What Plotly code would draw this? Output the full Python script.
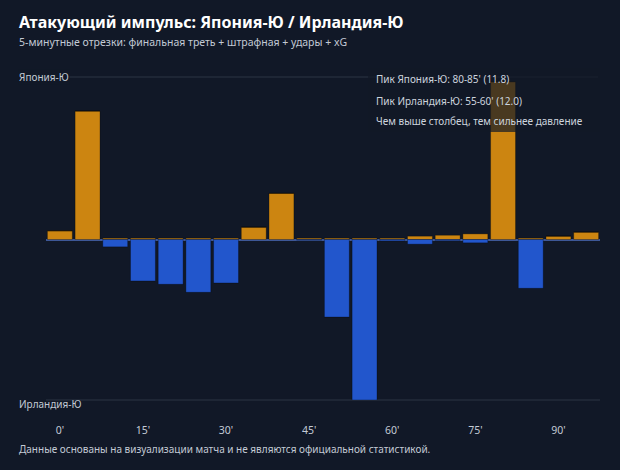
import plotly.graph_objects as go

minutes = [0, 5, 10, 15, 20, 25, 30, 35, 40, 45, 50, 55, 60, 65, 70, 75, 80, 85, 90, 95]
japan = [0.65, 9.6, 0.1, 0.1, 0.1, 0.1, 0.1, 0.92, 3.45, 0.1, 0.1, 0.1, 0.1, 0.25, 0.32, 0.42, 11.8, 0.1, 0.25, 0.55]
ireland = [0.0, 0.0, 0.55, 3.1, 3.35, 3.95, 3.25, 0.0, 0.0, 0.05, 5.8, 12.0, 0.1, 0.35, 0.08, 0.25, 0.0, 3.65, 0.0, 0.0]
tick_vals = [0, 15, 30, 45, 60, 75, 90]
tick_text = ["0'", "15'", "30'", "45'", "60'", "75'", "90'"]

BG = "#111827"
ORANGE = "#CC8511"
BLUE = "#2256CC"
FONT = "Noto Sans"

W, H = 620, 470
L, R, T, B = 46, 20, 77, 70
PW, PH = W - L - R, H - T - B


def px(xp):
    return (xp - L) / PW


def py(yp):
    return (H - B - yp) / PH


fig = go.Figure()
fig.add_trace(go.Bar(x=minutes, y=japan, name="Япония-Ю",
                     marker=dict(color=ORANGE, line=dict(color="rgba(0,0,0,0.3)", width=1))))
fig.add_trace(go.Bar(x=minutes, y=[-v for v in ireland], name="Ирландия-Ю",
                     marker=dict(color=BLUE, line=dict(color="rgba(0,0,0,0.3)", width=1))))

fig.update_layout(
    width=W, height=H,
    margin=dict(l=L, r=R, t=T, b=B),
    paper_bgcolor=BG, plot_bgcolor=BG,
    barmode="relative", bargap=0.1,
    showlegend=False,
    font=dict(family=FONT, color="#c3cad5", size=10),
    xaxis=dict(range=[-2.5, 97.5], tickvals=tick_vals, ticktext=tick_text,
               showgrid=False, zeroline=False, showline=False,
               ticks="outside", ticklen=20, tickcolor="rgba(0,0,0,0)",
               tickfont=dict(size=10.5, color="#c3cad5")),
    yaxis=dict(range=[-12.0, 12.15], showgrid=False, showticklabels=False,
               zeroline=True, zerolinecolor="#3d5797", zerolinewidth=1.5),
)

# frame lines at top and bottom
fig.add_shape(type="line", xref="paper", yref="paper", x0=0, x1=px(598), y0=1, y1=1,
              line=dict(color="#232b3b", width=1.5), layer="below")
fig.add_shape(type="line", xref="paper", yref="paper", x0=0, x1=1, y0=0, y1=0,
              line=dict(color="#232b3b", width=1.5), layer="below")

# translucent info box
fig.add_shape(type="rect", xref="paper", yref="paper",
              x0=px(368), x1=px(600), y0=py(132), y1=py(68),
              fillcolor="rgba(17,24,39,0.7)", line=dict(width=0), layer="above")

ann = [
    dict(text="<b>Атакующий импульс: Япония-Ю / Ирландия-Ю</b>", x=px(18), y=py(22),
         font=dict(size=16, color="#ffffff")),
    dict(text="5-минутные отрезки: финальная треть + штрафная + удары + xG", x=px(18), y=py(42),
         font=dict(size=10.5, color="#c3cad5")),
    dict(text="Япония-Ю", x=px(18), y=py(77), font=dict(size=10, color="#c3cad5"), bgcolor=BG),
    dict(text="Ирландия-Ю", x=px(18), y=py(404), font=dict(size=10, color="#c3cad5")),
    dict(text="Пик Япония-Ю: 80-85' (11.8)", x=px(375), y=py(79), font=dict(size=10, color="#cdd4de")),
    dict(text="Пик Ирландия-Ю: 55-60' (12.0)", x=px(375), y=py(101), font=dict(size=10, color="#cdd4de")),
    dict(text="Чем выше столбец, тем сильнее давление", x=px(375), y=py(121), font=dict(size=10, color="#cdd4de")),
    dict(text="Данные основаны на визуализации матча и не являются официальной статистикой.",
         x=px(18), y=py(449), font=dict(size=10, color="#c3cad5")),
]
for a in ann:
    fig.add_annotation(xref="paper", yref="paper", xanchor="left", yanchor="middle",
                       showarrow=False, align="left", borderpad=0, **a)

fig.write_html("out.html")
